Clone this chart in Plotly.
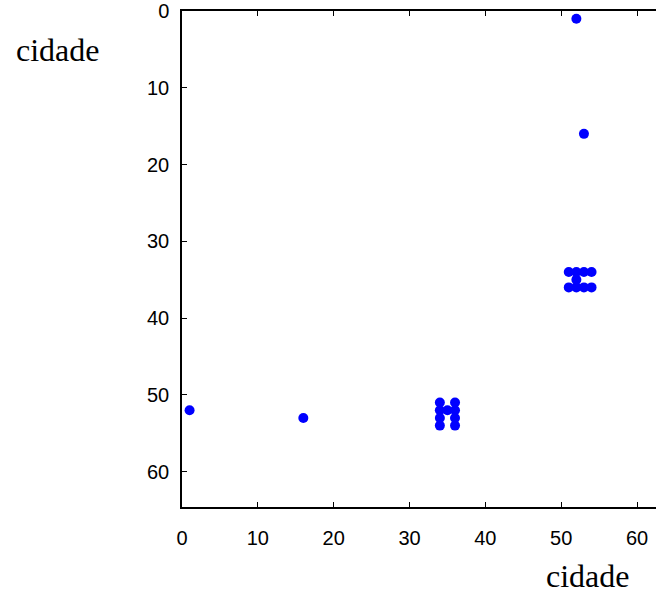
import plotly.graph_objects as go

# nonzero pattern of a 64x64 sparse matrix (column index, row index)
cols = [52, 53, 51, 52, 53, 54, 52, 51, 52, 53, 54,
        1, 16, 34, 34, 34, 34, 35, 36, 36, 36, 36]
rows = [1, 16, 34, 34, 34, 34, 35, 36, 36, 36, 36,
        52, 53, 51, 52, 53, 54, 52, 51, 52, 53, 54]
tick_vals = [0, 10, 20, 30, 40, 50, 60]
axis_label = "cidade"

fig = go.Figure()
fig.add_trace(go.Scatter(
    x=cols, y=rows, mode="markers",
    marker=dict(size=10, color="#0000ff", line=dict(width=0)),
    hoverinfo="skip", showlegend=False))

tickfont = dict(family="Liberation Sans, Arial, sans-serif", size=20, color="black")
serif = dict(family="Liberation Serif, Times New Roman, serif", size=32, color="black")
fig.update_layout(
    width=656, height=598,
    margin=dict(l=182, r=0, t=11, b=91),
    paper_bgcolor="white", plot_bgcolor="white",
    xaxis=dict(range=[0, 62.5], tickvals=tick_vals, ticks="inside", ticklen=5,
               tickcolor="black", showline=True, linecolor="black", linewidth=1.5,
               mirror="ticks", showgrid=False, zeroline=False, tickfont=tickfont,
               ticklabelstandoff=12, automargin=False),
    yaxis=dict(range=[64.6, 0], tickvals=tick_vals, ticks="inside", ticklen=5,
               tickcolor="black", showline=True, linecolor="black", linewidth=1.5,
               mirror=False, showgrid=False, zeroline=False, tickfont=tickfont,
               ticklabelstandoff=7, automargin=False),
    annotations=[
        dict(text=axis_label, xref="paper", yref="paper", x=0, y=1,
             xanchor="center", yanchor="middle", showarrow=False,
             xshift=58 - 182, yshift=-(50 - 11), font=serif),
        dict(text=axis_label, xref="paper", yref="paper", x=0, y=0,
             xanchor="center", yanchor="middle", showarrow=False,
             xshift=588 - 182, yshift=-(576 - 507), font=serif),
    ],
)
fig.write_html("out.html",
               config={"displayModeBar": False},
               post_script="document.body.style.margin='0';document.body.style.overflow='hidden';")
